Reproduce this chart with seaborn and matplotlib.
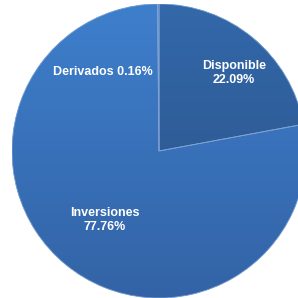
import matplotlib
matplotlib.use("Agg")
import matplotlib.pyplot as plt
from matplotlib.colors import LinearSegmentedColormap
from matplotlib.patches import Wedge
import numpy as np
import seaborn as sns

sns.set_style("white")
plt.rcParams['font.family'] = ['Liberation Sans', 'DejaVu Sans']

# datos
categorias = ['Disponible', 'Inversiones', 'Derivados']
valores = [22.09, 77.76, 0.16]
etiquetas = ['Disponible\n22.09%', 'Inversiones\n77.76%', 'Derivados 0.16%']
colores = ['#2e5e98', '#3a72b9', '#3c78c2']
# degradado (arriba, abajo) de cada porcion
degradados = [('#3368aa', '#2a5185'), ('#3e7fcc', '#3363a6'), ('#3e7fcc', '#3a76c0')]

fig = plt.figure(figsize=(2.98, 2.98), dpi=100)
# el circulo queda cortado a la derecha y abajo como en el original
ax = fig.add_axes([0.0403, 0.0, 0.9866, 0.9866])
wedges, _ = ax.pie(valores, colors=colores, startangle=90, counterclock=False,
                   radius=1.0, wedgeprops=dict(linewidth=0))

grad = np.linspace(0, 1, 256).reshape(-1, 1)
for w, (c_top, c_bot) in zip(wedges, degradados):
    cmap = LinearSegmentedColormap.from_list('g', [c_top, c_bot])
    im = ax.imshow(grad, cmap=cmap, extent=[-1, 1, -1, 1], aspect='auto',
                   origin='upper', zorder=w.get_zorder() + 0.1)
    im.set_clip_path(w)
    # borde claro encima del degradado
    ax.add_patch(Wedge(w.center, w.r, w.theta1, w.theta2, facecolor='none',
                       edgecolor='#7fa3d3', linewidth=0.6, zorder=3))

ax.set_xlim(-1, 1)
ax.set_ylim(-1, 1)
ax.set_aspect('equal')
ax.axis('off')

# posiciones de las etiquetas
pos = [(0.51, 0.53), (-0.37, -0.47), (-0.385, 0.537)]
for txt, (x, y) in zip(etiquetas, pos):
    ax.text(x, y, txt, ha='center', va='center', color='white', zorder=5,
            fontsize=9, fontweight='bold', linespacing=1.2)

fig.savefig('out.png', dpi=100)
